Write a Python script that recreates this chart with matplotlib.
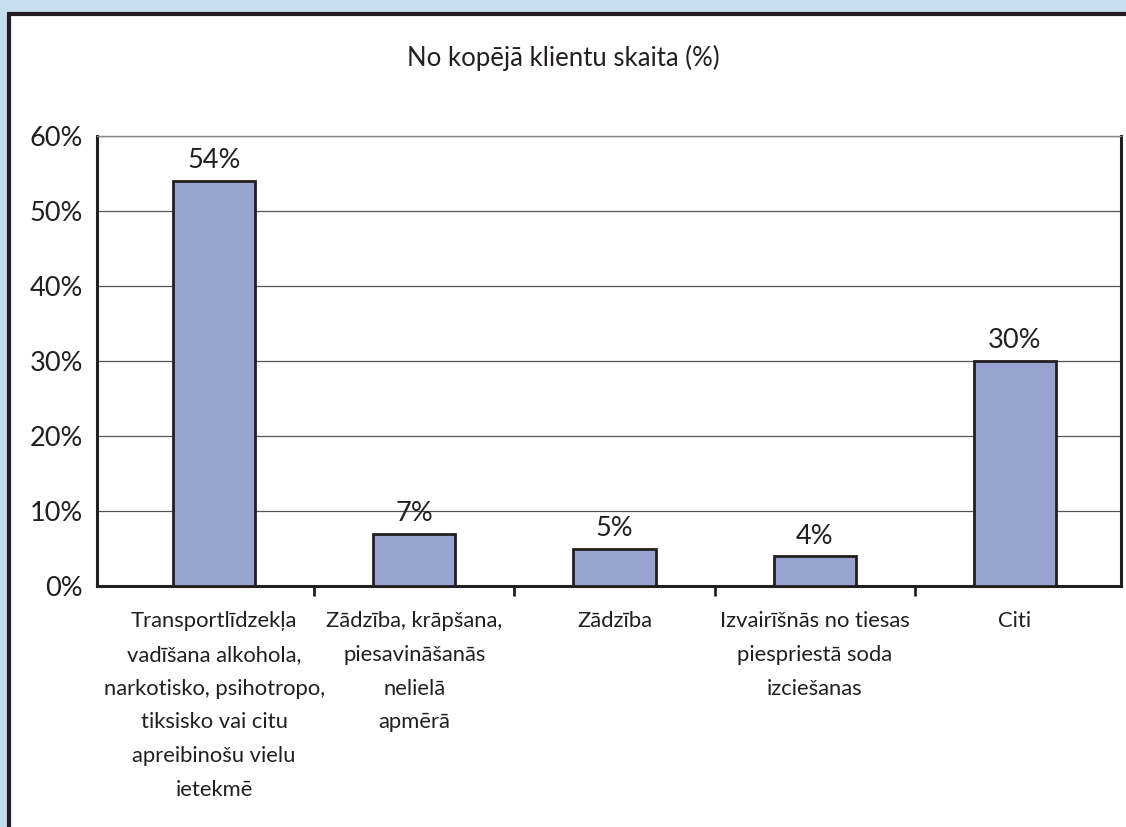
import matplotlib
matplotlib.use("Agg")
import matplotlib.pyplot as plt
from matplotlib.patches import Rectangle
from matplotlib.ticker import FuncFormatter

plt.rcParams["font.family"] = ["Lato", "DejaVu Sans"]

TITLE = "No kopējā klientu skaita (%)"
categories = [
    "Transportlīdzekļa\nvadīšana alkohola,\nnarkotisko, psihotropo,\ntiksisko vai citu\napreibinošu vielu\nietekmē",
    "Zādzība, krāpšana,\npiesavināšanās\nnelielā\napmērā",
    "Zādzība",
    "Izvairīšnās no tiesas\npiespriestā soda\nizciešanas",
    "Citi",
]
values = [54, 7, 5, 4, 30]
value_labels = ["54%", "7%", "5%", "4%", "30%"]
y_ticks = [0, 10, 20, 30, 40, 50, 60]

W, H = 1126, 827
TEXT = "#231f20"

fig = plt.figure(figsize=(W / 100, H / 100), dpi=100, facecolor="#c6ddf0")

# white panel with dark border
panel = Rectangle((9 / W, -0.02), 1.1, (H - 14) / H + 0.02, transform=fig.transFigure,
                  facecolor="white", edgecolor="#231f20", linewidth=3, zorder=-5)
fig.patches.append(panel)

fig.text(563 / W, 1 - 58 / H, TITLE, ha="center", va="center", fontsize=18.5, color=TEXT)

ax = fig.add_axes([97 / W, 1 - 586 / H, (1121 - 97) / W, (586 - 136) / H])
ax.set_facecolor("none")
x = list(range(len(categories)))
ax.bar(x, values, width=0.41, color="#99a3d1", edgecolor="#231f20", linewidth=2, zorder=3)
for xi, v, lab in zip(x, values, value_labels):
    ax.text(xi, v + 1.0, lab, ha="center", va="bottom", fontsize=19.5, color=TEXT)

ax.set_xlim(-0.585, 4.53)
ax.set_ylim(0, 60)
ax.set_yticks(y_ticks)
ax.yaxis.set_major_formatter(FuncFormatter(lambda v, p: f"{v:.0f}%"))
ax.tick_params(axis="y", length=0, pad=10, labelsize=19.5, labelcolor=TEXT)
ax.yaxis.grid(True, color="#555555", linewidth=0.9, zorder=0)
ax.set_axisbelow(True)

ax.set_xticks(x)
ax.set_xticklabels(categories, fontsize=15.8, color=TEXT, linespacing=1.86)
ax.tick_params(axis="x", length=0, pad=18)
ax.set_xticks([0.5, 1.5, 2.5, 3.5], minor=True)
ax.tick_params(axis="x", which="minor", length=7, width=2, color="#231f20", direction="out")

for side in ("left", "bottom", "right"):
    ax.spines[side].set_color("#231f20")
    ax.spines[side].set_linewidth(2.2)
ax.spines["top"].set_color("#888888")
ax.spines["top"].set_linewidth(1)

fig.savefig("out.png", dpi=100, facecolor=fig.get_facecolor())
